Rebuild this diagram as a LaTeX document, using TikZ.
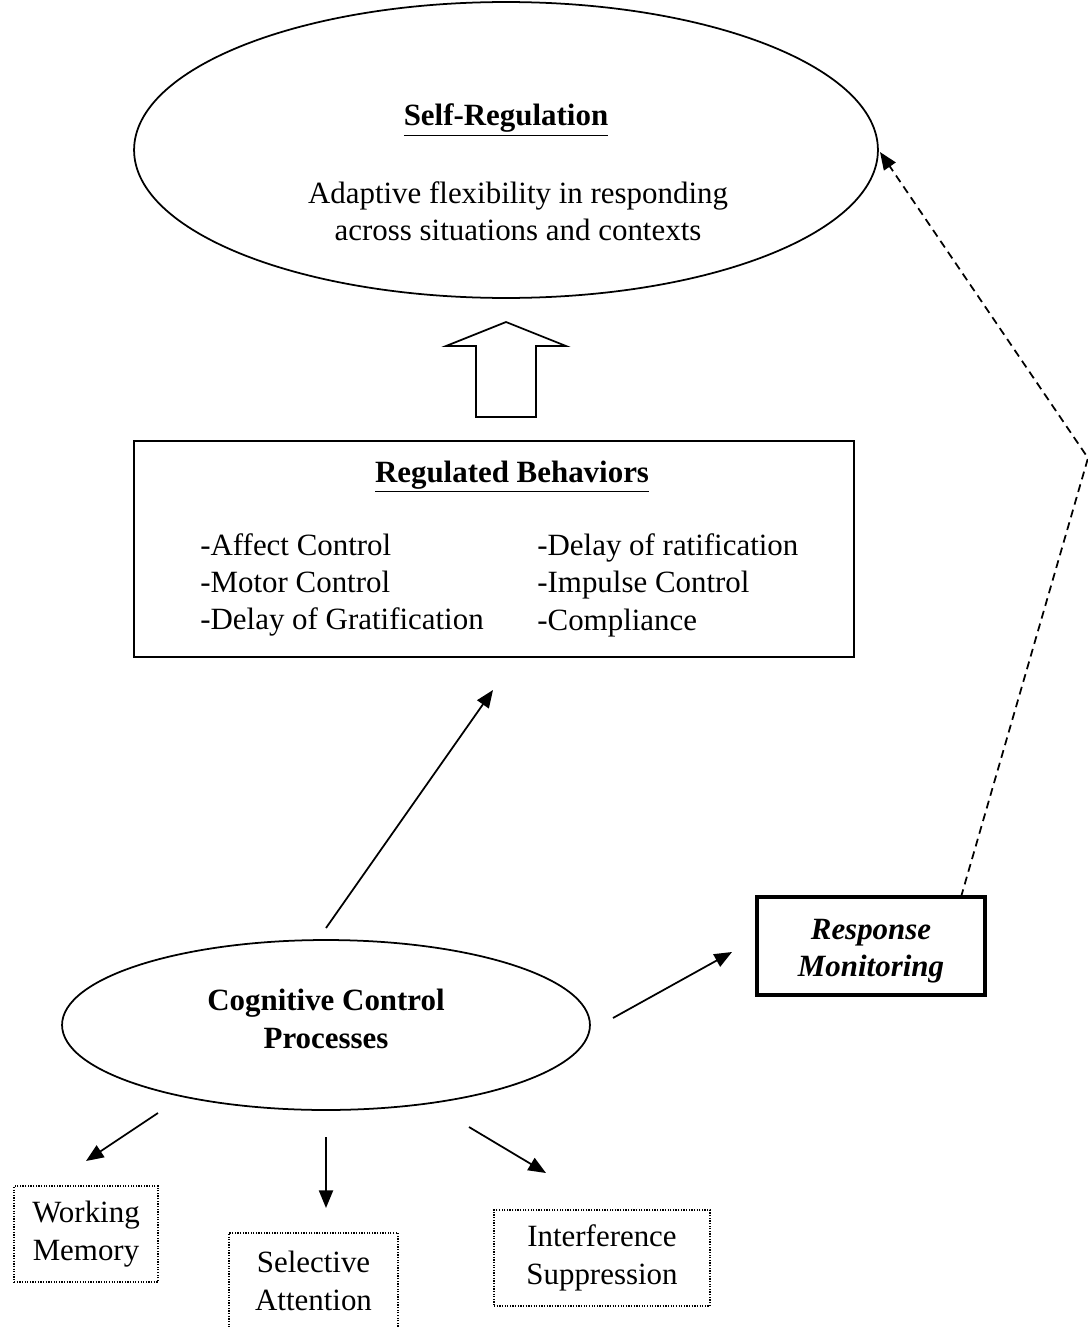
\documentclass[tikz,border=0pt]{standalone}
\usepackage{fontspec}
\setmainfont{Liberation Serif}
\usetikzlibrary{arrows.meta,shapes.geometric}

\begin{document}
\begin{tikzpicture}[x=0.02cm,y=-0.02cm,
  txt/.style={font=\fontsize{17.6}{21.3}\selectfont, align=center, inner sep=0pt},
  oval/.style={draw, ellipse, line width=1pt, inner sep=0pt},
  plainbox/.style={draw, rectangle, line width=1pt, inner sep=0pt},
  thickbox/.style={draw, rectangle, line width=2.2pt, inner sep=0pt},
  dotbox/.style={draw, rectangle, line width=1.1pt, dash pattern=on 0.7pt off 0.8pt, inner sep=0pt},
  link/.style={line width=1pt, -{Triangle[length=10pt,width=8pt]}},
  feedback/.style={line width=1pt, dash pattern=on 4.5pt off 3pt, -{Triangle[length=10pt,width=8pt]}}
]
\useasboundingbox (0,0) rectangle (1088,1328);
\clip (0,0) rectangle (1088,1328);

% Self-regulation oval
\node[oval, minimum width=14.88cm, minimum height=5.92cm] (selfreg) at (506,150) {};
\node[txt] (selfregtitle) at (506,120) {\underline{\textbf{Self-Regulation}}};
\node[txt] (selfregtext) at (518,211) {Adaptive flexibility in responding\\across situations and contexts};

% Hollow block arrow
\draw[line width=1pt, line join=miter] (506,322) -- (566,346) -- (536,346) -- (536,417)
  -- (476,417) -- (476,346) -- (446,346) -- cycle;

% Regulated behaviours box
\node[plainbox, minimum width=14.4cm, minimum height=4.32cm] (regbox) at (494,549) {};
\node[txt] (regtitle) at (512,477) {\underline{\textbf{Regulated Behaviors}}};
\node[txt, align=left, anchor=west] (regleft) at (200,585)
  {-Affect Control\\-Motor Control\\-Delay of Gratification};
\node[txt, align=left, anchor=west] (regright) at (537,585)
  {-Delay of ratification\\-Impulse Control\\-Compliance};

% Cognitive control oval
\node[oval, minimum width=10.56cm, minimum height=3.4cm] (cog) at (326,1025) {};
\node[txt] (cogtext) at (326,1019) {\textbf{Cognitive Control}\\\textbf{Processes}};

% Response monitoring box
\node[thickbox, minimum width=4.56cm, minimum height=1.96cm] (resp) at (871,946) {};
\node[txt] (resptext) at (871,951) {\textbf{\textit{Response}}\\\textbf{\textit{Monitoring}}};

% Component processes
\node[dotbox, minimum width=2.88cm, minimum height=1.92cm, txt] (wm) at (86,1234) {Working\\Memory};
\node[dotbox, minimum width=3.38cm, minimum height=1.92cm, txt] (sa) at (313.5,1281) {Selective\\Attention};
\node[dotbox, minimum width=4.32cm, minimum height=1.92cm, txt] (is) at (602,1258) {Interference\\Suppression};

% Connector end points
\coordinate (cogup) at (326,928);
\coordinate (regin) at (493,690);
\coordinate (cogright) at (613,1018);
\coordinate (respin) at (732,952);
\coordinate (cogwm) at (158,1113);
\coordinate (wmin) at (86,1161);
\coordinate (cogsa) at (326,1137);
\coordinate (sain) at (326,1208);
\coordinate (cogis) at (469,1127);
\coordinate (isin) at (546,1173);
\coordinate (respout) at (961,897);
\coordinate (bend) at (1088,458);
\coordinate (selfin) at (880,152);

% Connectors
\draw[link] (cogup) -- (regin);
\draw[link] (cogright) -- (respin);
\draw[link] (cogwm) -- (wmin);
\draw[link] (cogsa) -- (sain);
\draw[link] (cogis) -- (isin);
\draw[feedback] (respout) -- (bend) -- (selfin);
\end{tikzpicture}
\end{document}
